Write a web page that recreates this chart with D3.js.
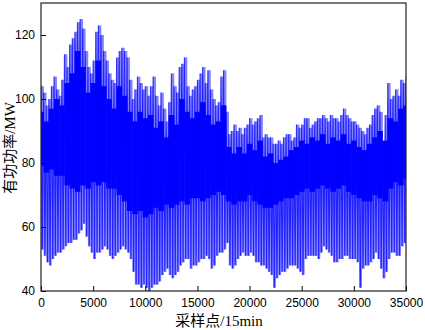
<!DOCTYPE html>
<html>
<head>
<meta charset="utf-8">
<script src="https://cdn.jsdelivr.net/npm/d3@7"></script>
<style>
body { margin: 0; background: #fff; }
</style>
</head>
<body>
<svg width="425" height="330"></svg>
<script>
// envelope of the load curve, read every 250 samples
const step = 250;
const peakHigh = [
	104, 102, 98, 100, 104, 107, 103, 101, 106, 114, 110, 117, 119, 121, 124, 125, 122, 115, 110, 108,
	112, 121, 123, 120, 115, 112, 108, 106, 105, 113, 115, 116, 115, 113, 106, 100, 103, 107, 105, 103,
	104, 101, 104, 107, 101, 98, 102, 97, 93, 99, 108, 104, 102, 110, 111, 113, 104, 101, 103, 104,
	106, 108, 110, 105, 109, 103, 100, 98, 99, 107, 109, 96, 89, 90, 92, 90, 91, 89, 91, 92,
	94, 92, 93, 94, 95, 88, 89, 88, 88, 86, 86, 87, 86, 88, 89, 89, 87, 88, 92, 91,
	92, 94, 94, 91, 92, 93, 94, 94, 95, 94, 93, 95, 94, 94, 93, 95, 97, 95, 94, 93,
	93, 92, 91, 90, 89, 91, 92, 95, 97, 98, 96, 86, 95, 105, 100, 101, 103, 101, 106, 105,
	107
];
const valleyLow = [
	53, 51, 49, 48, 50, 51, 52, 52, 53, 54, 55, 55, 56, 56, 58, 59, 61, 57, 54, 52,
	50, 52, 52, 53, 54, 53, 51, 50, 51, 52, 53, 54, 53, 52, 50, 46, 42, 42, 41, 42,
	41, 40, 41, 42, 42, 43, 45, 46, 47, 45, 44, 45, 46, 48, 49, 50, 50, 47, 48, 48,
	49, 50, 50, 51, 50, 47, 48, 51, 52, 52, 53, 55, 48, 47, 48, 50, 51, 52, 51, 51,
	52, 51, 49, 49, 48, 48, 47, 46, 45, 41, 44, 45, 46, 46, 47, 48, 48, 48, 47, 46,
	45, 50, 51, 51, 51, 51, 50, 52, 54, 53, 52, 51, 49, 49, 50, 50, 51, 51, 50, 50,
	50, 49, 41, 47, 48, 48, 49, 50, 52, 50, 47, 44, 46, 50, 52, 52, 51, 51, 54, 55,
	56
];

// dense (dark) band, read every 500 samples
const coreStep = 500;
const coreHigh = [
	96, 93, 97, 100, 98, 105, 108, 115, 110, 102, 105, 112, 104, 100, 97, 104, 101, 96, 93, 96,
	94, 95, 91, 93, 88, 95, 92, 100, 96, 94, 96, 99, 95, 92, 93, 98, 85, 83, 85, 83,
	86, 84, 87, 82, 83, 80, 81, 82, 84, 85, 87, 86, 88, 87, 89, 86, 88, 87, 89, 86,
	87, 85, 84, 86, 88, 90, 87, 94, 93, 97, 98
];
const coreLow = [
	79, 77, 78, 76, 76, 73, 72, 71, 73, 72, 74, 73, 74, 72, 72, 70, 68, 65, 64, 65,
	63, 64, 66, 65, 67, 66, 67, 68, 67, 69, 69, 68, 69, 70, 71, 70, 68, 67, 68, 68,
	70, 68, 67, 66, 66, 67, 68, 69, 69, 70, 71, 72, 71, 72, 73, 72, 71, 72, 73, 71,
	70, 69, 68, 68, 70, 69, 68, 72, 74, 73, 75
];

const xTicks = [0, 5000, 10000, 15000, 20000, 25000, 30000, 35000];
const yTicks = [40, 60, 80, 100, 120];

const svg = d3.select("svg");
const margin = { left: 41, right: 19, top: 3, bottom: 39 };
const w = 425 - margin.left - margin.right;
const h = 330 - margin.top - margin.bottom;

const x = d3.scaleLinear().domain([0, 35000]).range([0, w]);
const y = d3.scaleLinear().domain([40, 130]).range([h, 0]);

const g = svg.append("g").attr("transform", `translate(${margin.left},${margin.top})`);

g.append("clipPath").attr("id", "plotClip")
	.append("rect").attr("width", w).attr("height", h);

const plot = g.append("g").attr("clip-path", "url(#plotClip)");

// light range of each chunk
plot.selectAll(".range")
	.data(peakHigh)
	.enter()
	.append("rect")
	.classed("range", true)
	.attr("x", (d, i) => x(i * step))
	.attr("width", x(step) - x(0) + 0.3)
	.attr("y", d => y(d))
	.attr("height", (d, i) => y(valleyLow[i]) - y(d))
	.attr("fill", "#8484ff");

// dense band, one column per chunk
plot.selectAll(".core")
	.data(coreHigh)
	.enter()
	.append("rect")
	.classed("core", true)
	.attr("x", (d, i) => x(i * coreStep - coreStep / 2))
	.attr("width", x(coreStep) - x(0) + 0.3)
	.attr("y", d => y(d))
	.attr("height", (d, i) => y(coreLow[i]) - y(d))
	.attr("fill", "#0000ff");

// zigzag through daily highs and lows
const zig = [];
peakHigh.forEach((v, i) => {
	zig.push([i * step, v]);
	zig.push([i * step + step / 2, valleyLow[i]]);
});

const line = d3.line().x(d => x(d[0])).y(d => y(d[1]));

plot.append("path")
	.attr("d", line(zig))
	.attr("fill", "none")
	.attr("stroke", "#0000ff")
	.attr("stroke-opacity", 0.75)
	.attr("stroke-width", 1.1);

// axes with inward ticks
const xAxis = g.append("g")
	.attr("transform", `translate(0,${h})`)
	.call(d3.axisBottom(x).tickValues(xTicks).tickFormat(d3.format("d"))
		.tickSizeInner(-5).tickSizeOuter(0).tickPadding(7));
const yAxis = g.append("g")
	.call(d3.axisLeft(y).tickValues(yTicks).tickFormat(d3.format("d"))
		.tickSizeInner(-5).tickSizeOuter(0).tickPadding(6));

[xAxis, yAxis].forEach(a => {
	a.select(".domain").remove();
	a.selectAll("text")
		.attr("fill", "#000")
		.style("font-family", "'Liberation Sans', Arial, sans-serif")
		.style("font-size", "12px");
	a.selectAll("line").attr("stroke", "#000");
});

g.append("rect")
	.attr("width", w).attr("height", h)
	.attr("fill", "none")
	.attr("stroke", "#222")
	.attr("stroke-width", 1.2);

const titleFont = "'Liberation Serif', 'Times New Roman', 'Noto Sans CJK SC', serif";

svg.append("text")
	.attr("x", 219).attr("y", 326)
	.attr("text-anchor", "middle")
	.style("font-family", titleFont)
	.style("font-size", "15px")
	.text("采样点/15min");

svg.append("text")
	.attr("transform", "translate(9.5,148) rotate(-90)")
	.attr("text-anchor", "middle")
	.attr("dy", "0.35em")
	.style("font-family", titleFont)
	.style("font-size", "15px")
	.text("有功功率/MW");
</script>
</body>
</html>
